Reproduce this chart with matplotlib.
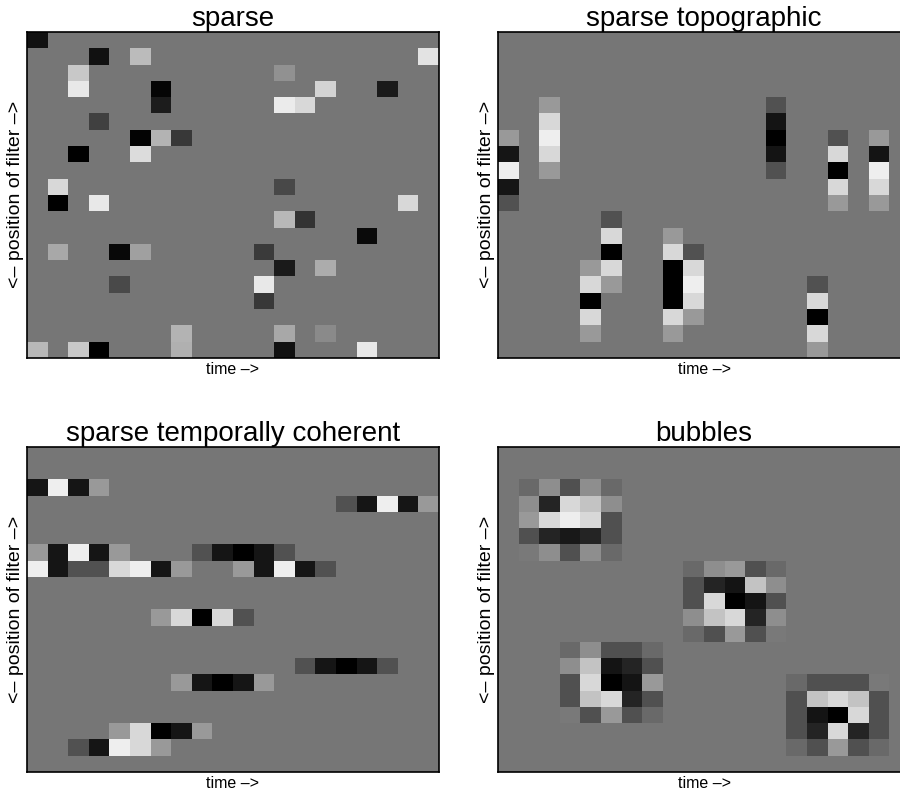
import numpy as np
import matplotlib
matplotlib.use("Agg")
import matplotlib.pyplot as plt

plt.rcParams['font.family'] = ['Liberation Sans', 'DejaVu Sans']

n_rows, n_cols = 20, 20
background = 118  # grey level of an inactive filter

titles = ['sparse', 'sparse topographic', 'sparse temporally coherent', 'bubbles']
xlabel = 'time \u2013>'
ylabel = '<\u2013 position of filter \u2013>'

# (row, col, grey level)
sparse_cells = [
    (0, 0, 17),
    (1, 3, 17), (1, 5, 187), (1, 19, 228),
    (2, 2, 200), (2, 12, 145),
    (3, 2, 232), (3, 6, 5), (3, 14, 212), (3, 17, 26),
    (4, 6, 28), (4, 12, 235), (4, 13, 216),
    (5, 3, 64),
    (6, 5, 3), (6, 6, 179), (6, 7, 56),
    (7, 2, 0), (7, 5, 220),
    (9, 1, 216), (9, 12, 72),
    (10, 1, 0), (10, 3, 232), (10, 18, 216),
    (11, 12, 184), (11, 13, 51),
    (12, 16, 10),
    (13, 1, 168), (13, 4, 8), (13, 5, 160), (13, 11, 58),
    (14, 12, 26), (14, 14, 172),
    (15, 4, 74), (15, 11, 232),
    (16, 11, 56),
    (18, 7, 180), (18, 12, 168), (18, 14, 138),
    (19, 0, 184), (19, 2, 200), (19, 3, 0), (19, 7, 176), (19, 12, 17), (19, 16, 232),
]

# vertical runs: (col, first row, grey levels down the column)
topo_runs = [
    (0, 6, [153, 21, 238, 21, 82]),
    (2, 4, [153, 216, 238, 216, 153]),
    (13, 4, [82, 20, 0, 20, 82]),
    (16, 6, [82, 216, 0, 216, 153]),
    (18, 6, [153, 20, 238, 216, 153]),
    (5, 11, [82, 216, 0, 216, 153]),
    (4, 14, [153, 216, 0, 216, 153]),
    (8, 12, [153, 216, 0, 0, 0, 216, 153]),
    (9, 13, [82, 216, 238, 216, 153]),
    (15, 15, [82, 216, 0, 216, 153]),
]

# horizontal runs: (row, first col, grey levels along the row)
temporal_runs = [
    (2, 0, [21, 238, 21, 153]),
    (3, 15, [82, 21, 238, 21, 153]),
    (6, 0, [153, 21, 238, 21, 153]),
    (6, 8, [82, 21, 0, 21, 82]),
    (7, 0, [238, 21, 82, 82, 216, 238, 21, 153]),
    (7, 10, [153, 21, 238, 21, 82]),
    (10, 6, [153, 216, 0, 216, 82]),
    (13, 13, [82, 21, 0, 21, 82]),
    (14, 7, [153, 21, 0, 21, 153]),
    (17, 4, [153, 216, 0, 21, 153]),
    (18, 2, [82, 21, 238, 216, 153]),
]

# 5x5 bubbles: (top row, left col, patch)
bubbles = [
    (2, 1, [[106, 142, 80, 142, 106],
            [142, 36, 216, 196, 142],
            [153, 216, 238, 216, 80],
            [80, 36, 24, 36, 80],
            [122, 142, 80, 142, 106]]),
    (7, 9, [[106, 142, 153, 80, 106],
            [80, 36, 20, 196, 142],
            [80, 216, 0, 20, 80],
            [142, 196, 216, 36, 142],
            [106, 80, 153, 80, 122]]),
    (12, 3, [[106, 142, 80, 80, 106],
             [142, 196, 20, 36, 80],
             [80, 216, 0, 20, 153],
             [80, 196, 216, 36, 80],
             [122, 80, 153, 80, 106]]),
    (14, 14, [[106, 80, 80, 80, 122],
              [80, 196, 216, 196, 80],
              [80, 20, 0, 216, 80],
              [80, 36, 216, 36, 80],
              [106, 80, 153, 80, 106]]),
]


def blank():
    return np.full((n_rows, n_cols), background, dtype=float)


m_sparse = blank()
for r, c, v in sparse_cells:
    m_sparse[r, c] = v

m_topo = blank()
for c, r0, vals in topo_runs:
    m_topo[r0:r0 + len(vals), c] = vals

m_temp = blank()
for r, c0, vals in temporal_runs:
    m_temp[r, c0:c0 + len(vals)] = vals

m_bub = blank()
for r0, c0, patch in bubbles:
    patch = np.array(patch)
    m_bub[r0:r0 + patch.shape[0], c0:c0 + patch.shape[1]] = patch

mats = [m_sparse, m_topo, m_temp, m_bub]

fig = plt.figure(figsize=(9, 7.93), dpi=100)
W, H = 900, 793
# axes boxes in pixels: left, top, width, height
boxes = [(27, 31.7, 412, 326), (498, 31.7, 412, 326),
         (27, 446.7, 412, 325), (498, 446.7, 412, 325)]

for (l, t, w, h), m, title in zip(boxes, mats, titles):
    ax = fig.add_axes([l / W, 1 - (t + h) / H, w / W, h / H])
    ax.imshow(m, cmap='gray', vmin=0, vmax=255, aspect='auto',
              interpolation='nearest')
    ax.set_xticks([])
    ax.set_yticks([])
    for s in ax.spines.values():
        s.set_linewidth(1.2)
        s.set_color('black')
    ax.set_title(title, fontsize=20, pad=3)
    ax.set_xlabel(xlabel, fontsize=11.5, labelpad=3)
    ax.set_ylabel(ylabel, fontsize=14, labelpad=2)

fig.savefig('out.png', dpi=100)
